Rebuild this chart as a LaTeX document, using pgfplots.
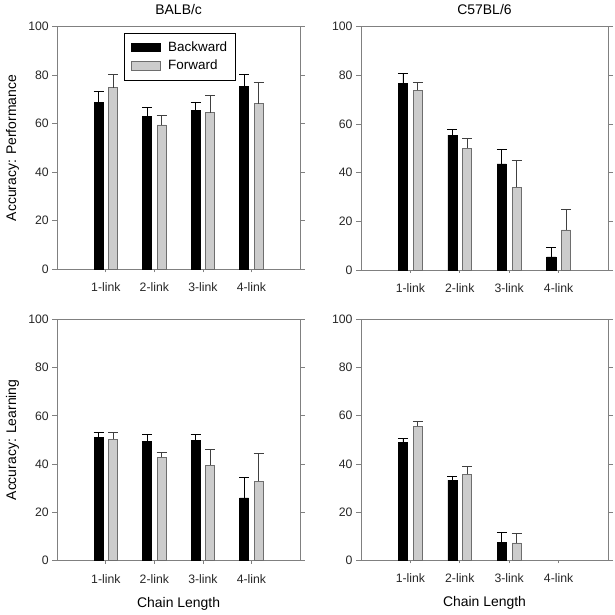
\documentclass[border=0pt]{standalone}
\usepackage{pgfplots}
\pgfplotsset{compat=1.18}
\usepackage{pgfplotstable}
\usepackage{fontspec}
\setmainfont{Liberation Sans}

\definecolor{axgray}{HTML}{808080}
\definecolor{barlight}{HTML}{CCCCCC}
\definecolor{baredge}{HTML}{6E6E6E}

% x  bk  bke  fw  fwe
\pgfplotstableread{
x bk bke fw fwe
1 68.7 4.6 74.9 5.3
2 63.0 3.8 59.5 3.9
3 65.6 3.4 64.6 7.1
4 75.4 4.8 68.3 8.9
}\balbperf
\pgfplotstableread{
x bk bke fw fwe
1 76.8 4.0 73.8 3.3
2 55.4 2.3 50.1 4.1
3 43.6 6.1 34.0 11.0
4 5.4 3.7 16.5 8.3
}\cperf
\pgfplotstableread{
x bk bke fw fwe
1 51.0 2.2 50.3 2.7
2 49.5 2.6 42.8 2.2
3 49.9 2.5 39.5 6.7
4 26.0 8.6 32.8 11.7
}\balblearn
\pgfplotstableread{
x bk bke fw fwe
1 48.8 1.7 55.7 2.1
2 33.3 1.7 35.8 3.3
3 7.3 4.4 7.2 4.0
}\clearn

\pgfplotsset{
  panel/.style={
    anchor=south west, scale only axis,
    xmin=0, xmax=5, ymin=0, ymax=100,
    xtick={1,2,3,4}, xticklabels={1-link,2-link,3-link,4-link},
    ytick={0,20,40,60,80,100},
    tick align=outside, xtick pos=bottom, ytick pos=both,
    major tick length=5bp,
    xtick style={/pgfplots/major tick length=3bp},
    axis line style={axgray, line width=0.7pt},
    tick style={axgray, line width=0.7pt},
    ticklabel style={font=\fontsize{12.3}{14}\selectfont, text=black!85},
    xticklabel style={yshift=-5bp},
    /pgf/number format/assume math mode=true,
    label style={font=\fontsize{14}{16}\selectfont},
    title style={font=\fontsize{14}{16}\selectfont},
    clip=false,
  },
  bk/.style={ybar, bar width=0.185, bar shift=0, fill=black, draw=black, line width=0.5pt,
    error bars/.cd, y dir=plus, y explicit,
    error bar style={black, line width=0.8pt},
    error mark options={rotate=90, mark size=5bp, line width=0.8pt, black}},
  fw/.style={ybar, bar width=0.185, bar shift=0, fill=barlight, draw=baredge, line width=0.6pt,
    error bars/.cd, y dir=plus, y explicit,
    error bar style={black!75, line width=0.8pt},
    error mark options={rotate=90, mark size=5bp, line width=0.8pt, black!75}},
}

\begin{document}
\begin{tikzpicture}
\useasboundingbox (0,0) rectangle (615bp,615bp);

% top-left
\begin{axis}[panel, at={(57.3bp,345.7bp)}, width=242.7bp, height=242.6bp,
  title={BALB/c}, title style={at={(axis description cs:0.5,1.047)}, anchor=center},
  ylabel={Accuracy: Performance},
  ylabel style={at={(axis description cs:-0.185,0.5)}, anchor=center},
  legend style={at={(axis description cs:0.276,0.976)}, anchor=north west,
    draw=black, line width=0.6pt, font=\fontsize{13.5}{15}\selectfont,
    inner xsep=6bp, inner ysep=7bp, row sep=3bp, column sep=6bp, cells={anchor=west}},
  legend cell align=left,
  ]
\addplot[legend image code/.code={\draw[fill=black,draw=black] (0bp,-4.3bp) rectangle (29bp,4.3bp);}, bk]
  table[x expr=\thisrow{x}-0.15, y=bk, y error=bke] {\balbperf};
\addlegendentry{Backward}
\addplot[legend image code/.code={\draw[fill=barlight,draw=baredge] (0bp,-4.3bp) rectangle (29bp,4.3bp);}, fw]
  table[x expr=\thisrow{x}+0.15, y=fw, y error=fwe] {\balbperf};
\addlegendentry{Forward}
\end{axis}

% top-right
\begin{axis}[panel, at={(361bp,345bp)}, width=247bp, height=243.3bp,
  title={C57BL/6}, title style={at={(axis description cs:0.5,1.047)}, anchor=center},
  ]
\addplot[bk] table[x expr=\thisrow{x}-0.15, y=bk, y error=bke] {\cperf};
\addplot[fw] table[x expr=\thisrow{x}+0.15, y=fw, y error=fwe] {\cperf};
\end{axis}

% bottom-left
\begin{axis}[panel, at={(57.3bp,54.4bp)}, width=242.7bp, height=241.3bp,
  ylabel={Accuracy: Learning},
  ylabel style={at={(axis description cs:-0.185,0.5)}, anchor=center},
  xlabel={Chain Length},
  xlabel style={at={(axis description cs:0.5,-0.178)}, anchor=center},
  ]
\addplot[bk] table[x expr=\thisrow{x}-0.15, y=bk, y error=bke] {\balblearn};
\addplot[fw] table[x expr=\thisrow{x}+0.15, y=fw, y error=fwe] {\balblearn};
\end{axis}

% bottom-right
\begin{axis}[panel, at={(361bp,54.7bp)}, width=247bp, height=241bp,
  xlabel={Chain Length},
  xlabel style={at={(axis description cs:0.5,-0.178)}, anchor=center},
  ]
\addplot[bk] table[x expr=\thisrow{x}-0.15, y=bk, y error=bke] {\clearn};
\addplot[fw] table[x expr=\thisrow{x}+0.15, y=fw, y error=fwe] {\clearn};
\end{axis}
\end{tikzpicture}
\end{document}
